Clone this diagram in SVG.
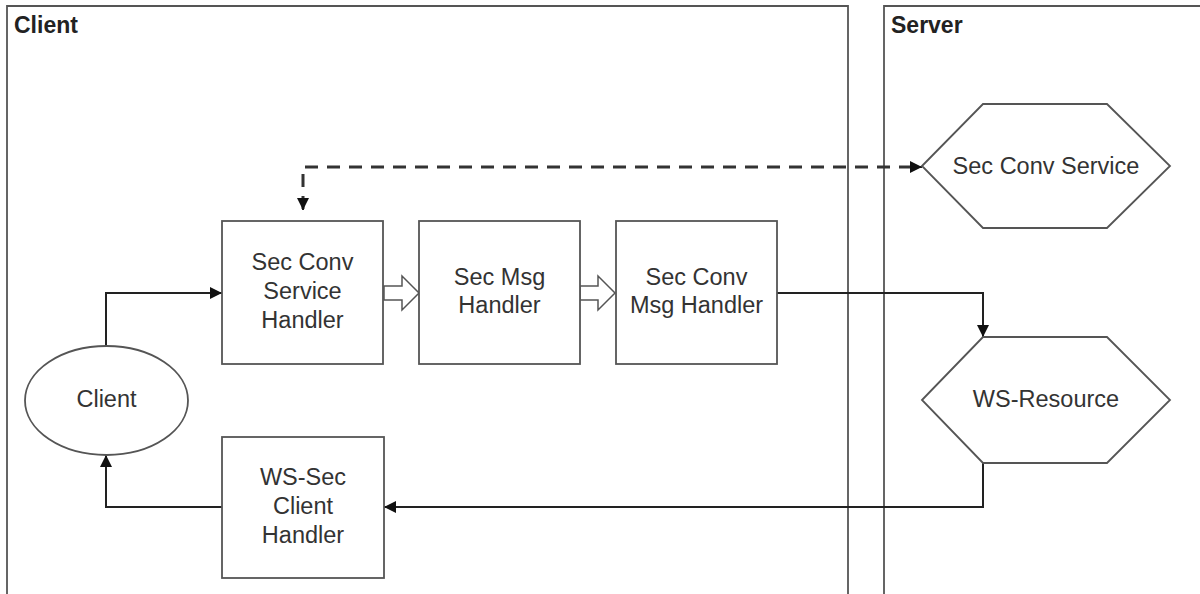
<svg xmlns="http://www.w3.org/2000/svg" width="1200" height="594" viewBox="0 0 1200 594">
<style>
.lane{fill:none;stroke:#555;stroke-width:1.8}
.title{font-family:"Liberation Sans",Arial,sans-serif;font-size:23px;font-weight:bold;fill:#222}
.box{fill:#fff;stroke:#555;stroke-width:1.8}
.lbl{font-family:"Liberation Sans",Arial,sans-serif;font-size:23.5px;fill:#333;text-anchor:middle}
.conn{fill:none;stroke:#222;stroke-width:2}
.dash{fill:none;stroke:#333;stroke-width:3;stroke-dasharray:13 9}
.block{fill:#fff;stroke:#555;stroke-width:1.5}
</style>
<defs>
<marker id="ah" viewBox="0 0 10 10" refX="10" refY="5" markerWidth="12" markerHeight="12" markerUnits="userSpaceOnUse" orient="auto">
<path d="M0,0 L10,5 L0,10 z" fill="#111"/>
</marker>
<marker id="ahs" viewBox="0 0 10 10" refX="10" refY="5" markerWidth="12" markerHeight="12" markerUnits="userSpaceOnUse" orient="auto-start-reverse">
<path d="M0,0 L10,5 L0,10 z" fill="#111"/>
</marker>
</defs>
<rect width="1200" height="594" fill="#fff"/>
<g id="lane-client">
<path class="lane" d="M7,600 V6 H848 V600"/>
<text class="title" x="14" y="33">Client</text>
</g>
<g id="lane-server">
<path class="lane" d="M884,600 V6 H1210"/>
<text class="title" x="891" y="33">Server</text>
</g>
<g id="connectors">
<path class="dash" d="M303,209 V167 H911"/>
<path d="M303,207 V210" fill="none" stroke="#222" stroke-width="2" marker-end="url(#ah)"/>
<path d="M910,167 H922" fill="none" stroke="#222" stroke-width="2" marker-end="url(#ah)"/>
<path class="conn" d="M106,346 V293 H222" marker-end="url(#ah)"/>
<path class="conn" d="M777,293 H983 V337" marker-end="url(#ah)"/>
<path class="conn" d="M983,463 V507 H384" marker-end="url(#ah)"/>
<path class="conn" d="M222,507 H106 V455" marker-end="url(#ah)"/>
<path class="block" d="M384,286 H402 V276 L419,293 L402,310 V300 H384 z"/>
<path class="block" d="M580,286 H598 V276 L615,293 L598,310 V300 H580 z"/>
</g>
<g id="node-sec-conv-service">
<polygon class="box" points="922,166 983,104 1107,104 1170,166 1107,228 983,228"/>
<text class="lbl" x="1046" y="174">Sec Conv Service</text>
</g>
<g id="node-sec-conv-service-handler">
<rect class="box" x="222" y="221" width="161" height="143"/>
<text class="lbl" x="302.5" y="270">Sec Conv</text>
<text class="lbl" x="302.5" y="299">Service</text>
<text class="lbl" x="302.5" y="328">Handler</text>
</g>
<g id="node-sec-msg-handler">
<rect class="box" x="419" y="221" width="161" height="143"/>
<text class="lbl" x="499.5" y="285">Sec Msg</text>
<text class="lbl" x="499.5" y="313">Handler</text>
</g>
<g id="node-sec-conv-msg-handler">
<rect class="box" x="616" y="221" width="161" height="143"/>
<text class="lbl" x="696.5" y="285">Sec Conv</text>
<text class="lbl" x="696.5" y="313">Msg Handler</text>
</g>
<g id="node-ws-resource">
<polygon class="box" points="922,400 983,337 1107,337 1170,400 1107,463 983,463"/>
<text class="lbl" x="1046" y="407">WS-Resource</text>
</g>
<g id="node-client">
<ellipse class="box" cx="106.5" cy="400.5" rx="81.5" ry="54.5"/>
<text class="lbl" x="106.5" y="407">Client</text>
</g>
<g id="node-ws-sec-client-handler">
<rect class="box" x="222" y="437" width="162" height="141"/>
<text class="lbl" x="303" y="485">WS-Sec</text>
<text class="lbl" x="303" y="514">Client</text>
<text class="lbl" x="303" y="543">Handler</text>
</g>
</svg>
